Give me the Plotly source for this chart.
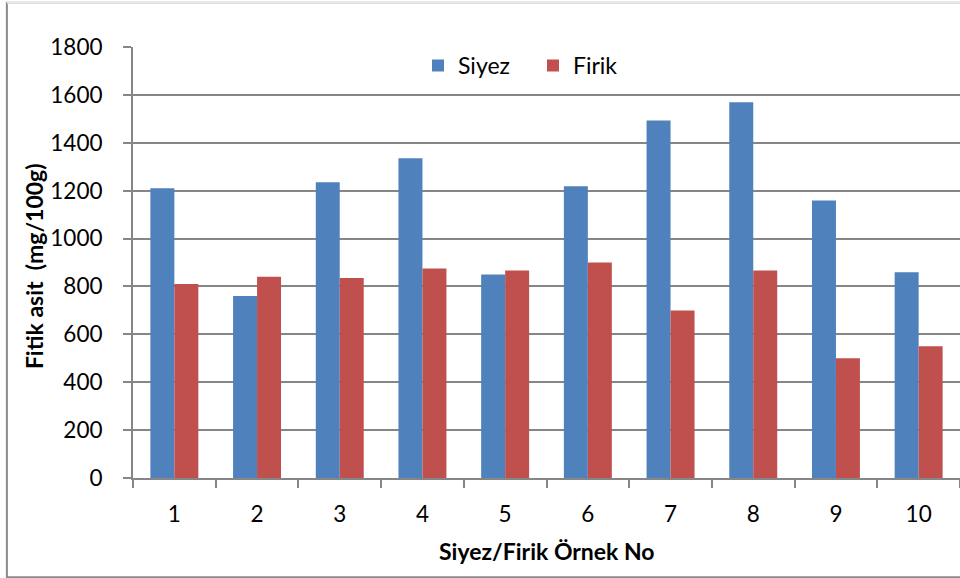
import plotly.graph_objects as go

# Sample numbers and phytic acid content (mg/100g)
samples = ["1", "2", "3", "4", "5", "6", "7", "8", "9", "10"]
siyez = [1210, 760, 1235, 1335, 850, 1218, 1493, 1569, 1159, 859]
firik = [810, 840, 835, 875, 867, 900, 700, 867, 500, 550]

FONT = "Lato, 'Open Sans', sans-serif"
GRID = "#868686"

fig = go.Figure()
fig.add_trace(go.Bar(name="Siyez", x=samples, y=siyez, marker_color="#4F81BD",
                     marker_line_width=0))
fig.add_trace(go.Bar(name="Firik", x=samples, y=firik, marker_color="#C0504D",
                     marker_line_width=0))

fig.update_layout(
    width=960, height=578,
    margin=dict(l=133, r=0, t=47, b=100, pad=0),
    paper_bgcolor="white", plot_bgcolor="white",
    barmode="group", bargap=0.42, bargroupgap=0,
    font=dict(family=FONT, size=22, color="#000"),
    showlegend=True,
    legend=dict(orientation="h", x=0.3446, y=0.957, xanchor="left", yanchor="middle",
                font=dict(family=FONT, size=23, color="#000"),
                bgcolor="rgba(0,0,0,0)", itemwidth=30, entrywidth=70),
    xaxis=dict(type="category", range=[-0.5, 9.5], showgrid=False,
               showline=True, linecolor=GRID, linewidth=2,
               ticks="outside", tickson="boundaries", ticklen=8, tickwidth=2,
               tickcolor=GRID, ticklabelstandoff=15,
               tickfont=dict(family=FONT, size=22.5, color="#000")),
    yaxis=dict(range=[0, 1800], tickvals=list(range(0, 1801, 200)),
               showgrid=True, gridcolor=GRID, gridwidth=2,
               showline=True, linecolor=GRID, linewidth=2,
               ticks="outside", ticklen=8, tickwidth=2, tickcolor=GRID,
               ticklabelstandoff=16, zeroline=False,
               tickfont=dict(family=FONT, size=22.5, color="#000")),
)

# Axis titles
fig.add_annotation(text="<b>Fitik asit  (mg/100g)</b>", xref="paper", yref="paper",
                   x=-0.1195, y=0.492, textangle=-90, showarrow=False,
                   xanchor="center", yanchor="middle",
                   font=dict(family=FONT, size=23, color="#000"))
fig.add_annotation(text="<b>Siyez/Firik Örnek No</b>", xref="paper", yref="paper",
                   x=0.5, y=-0.1685, showarrow=False,
                   xanchor="center", yanchor="middle",
                   font=dict(family=FONT, size=23, color="#000"))

# Chart border
fig.add_shape(type="rect", xref="paper", yref="paper",
              x0=-0.1525, x1=1.01, y0=-0.2305, y1=1.1025,
              line=dict(color="#8a8a8a", width=2), layer="below")
fig.add_shape(type="line", xref="paper", yref="paper",
              x0=-0.1525, x1=1.01, y0=1.1025, y1=1.1025,
              line=dict(color="#ececec", width=2))

fig.write_html("out.html")
